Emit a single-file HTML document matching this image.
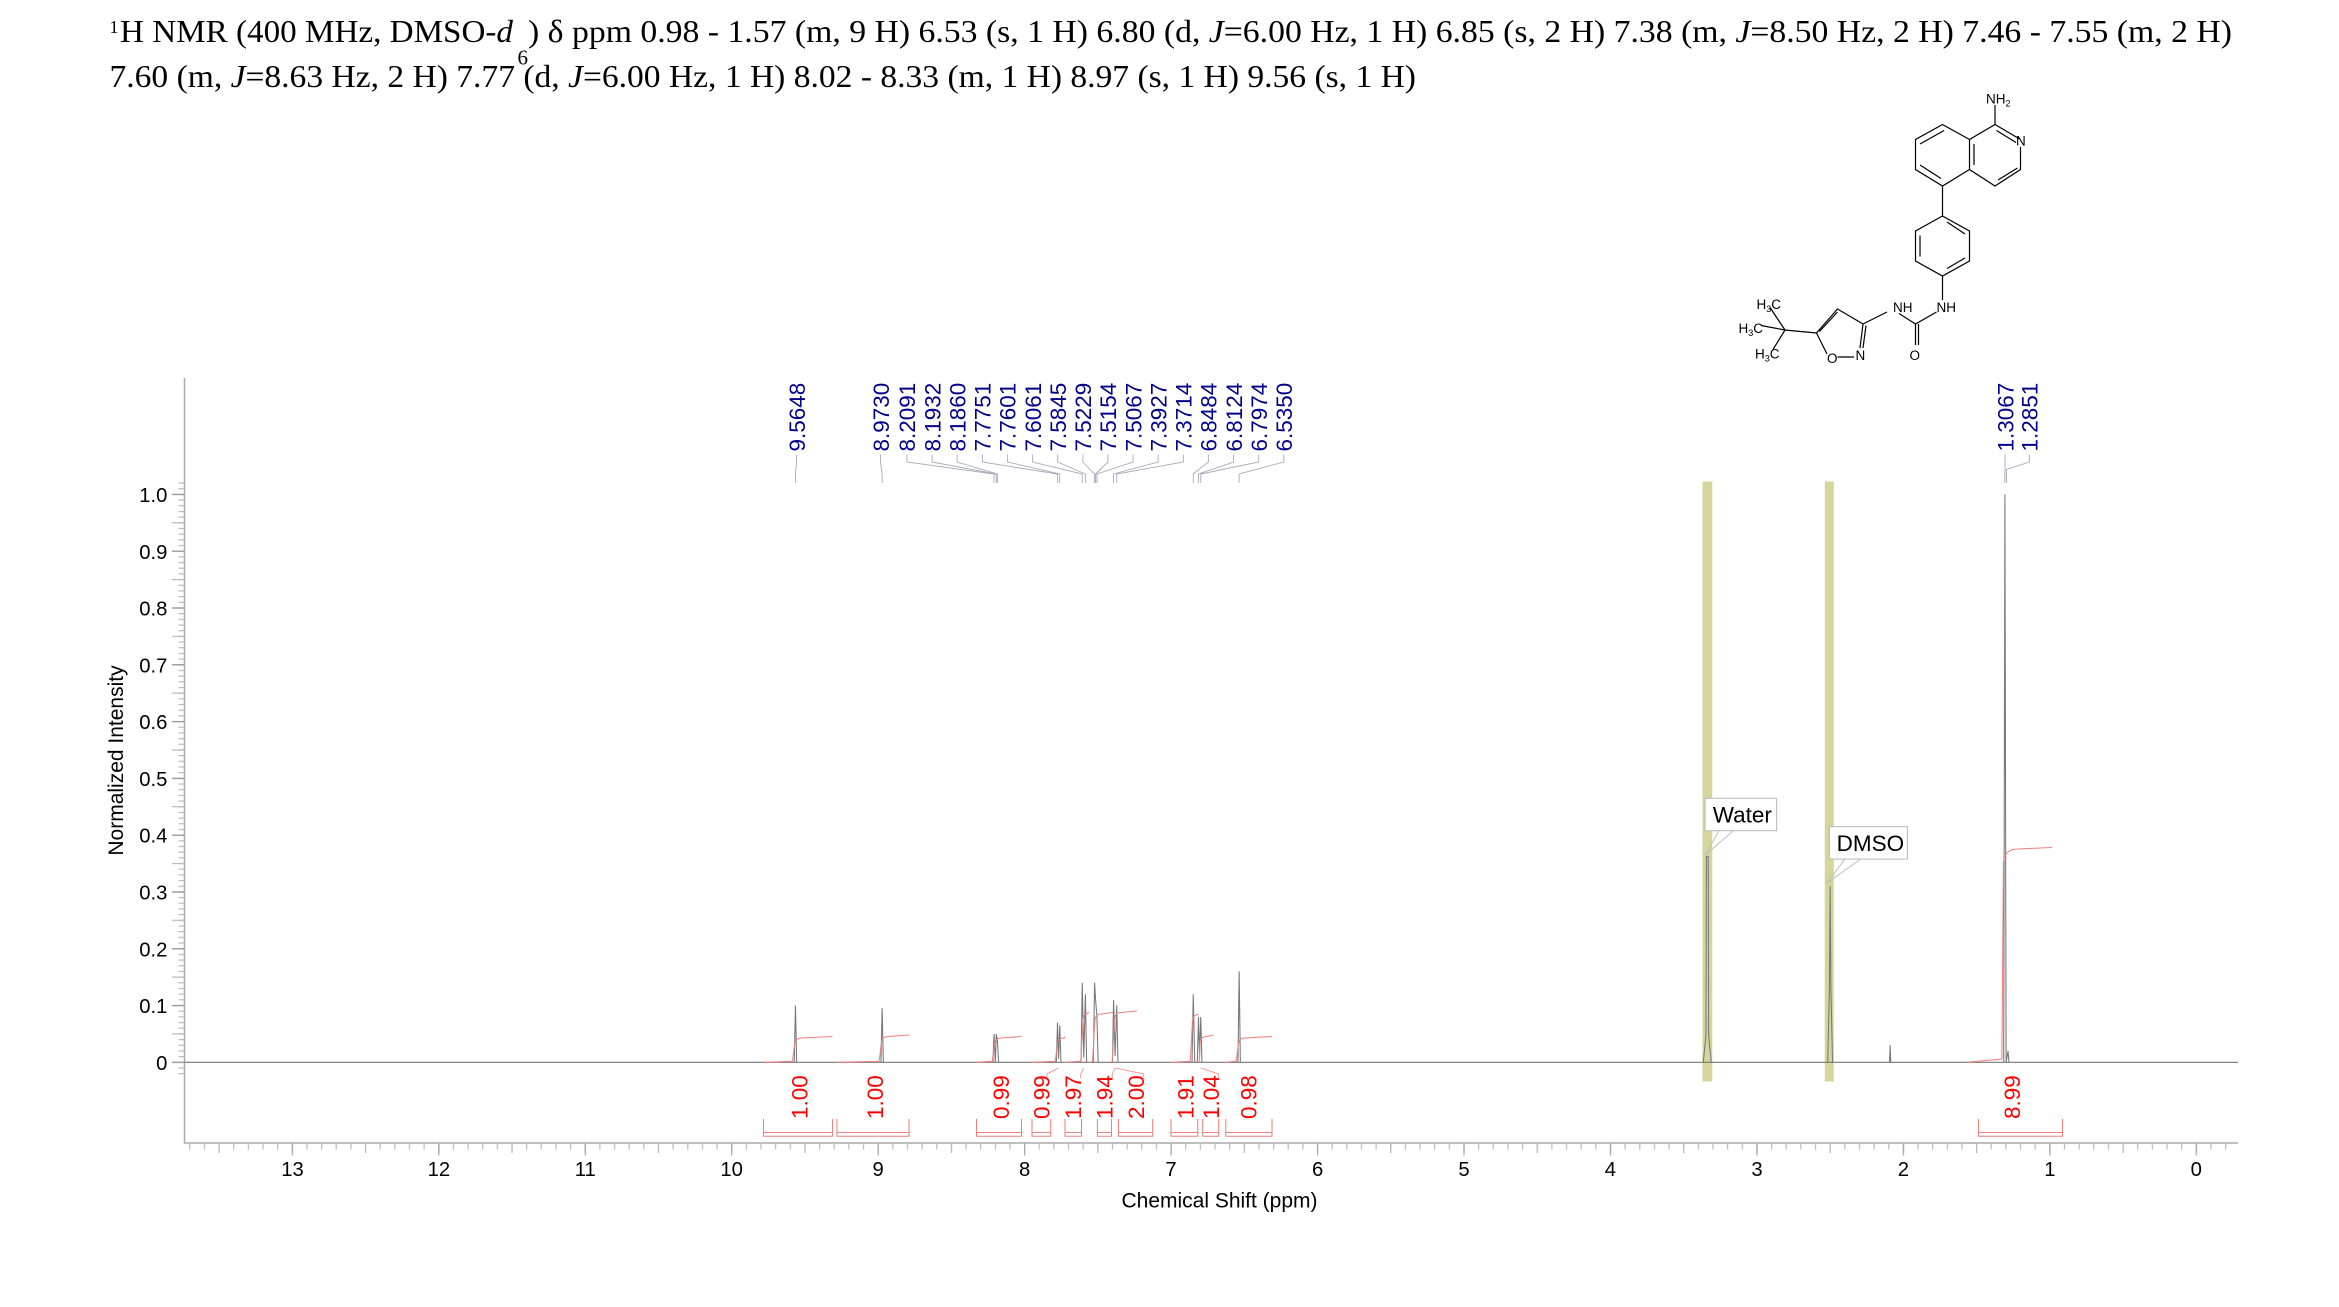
<!DOCTYPE html>
<html><head><meta charset="utf-8"><style>
html,body{margin:0;padding:0;background:#fff;}
svg{display:block;}
</style></head><body>
<svg xmlns="http://www.w3.org/2000/svg" width="2339" height="1307" viewBox="0 0 1559.33 871.33">
<defs>
<pattern id="xm" patternUnits="userSpaceOnUse" x="1463.8" y="0" width="9.764" height="20"><rect x="0" y="0" width="0.8" height="20" fill="#bbb"/></pattern>
<pattern id="xh" patternUnits="userSpaceOnUse" x="1463.8" y="0" width="48.82" height="20"><rect x="0" y="0" width="0.8" height="20" fill="#bbb"/></pattern>
<pattern id="xM" patternUnits="userSpaceOnUse" x="1463.8" y="0" width="97.64" height="20"><rect x="0" y="0" width="0.8" height="20" fill="#aaa"/></pattern>
<pattern id="ym" patternUnits="userSpaceOnUse" x="0" y="707.8" width="20" height="3.786"><rect x="0" y="0" width="20" height="0.8" fill="#bbb"/></pattern>
<pattern id="yh" patternUnits="userSpaceOnUse" x="0" y="707.8" width="20" height="18.93"><rect x="0" y="0" width="20" height="0.8" fill="#bbb"/></pattern>
<pattern id="yM" patternUnits="userSpaceOnUse" x="0" y="707.8" width="20" height="37.86"><rect x="0" y="0" width="20" height="0.8" fill="#999"/></pattern>
</defs>
<rect width="1559.33" height="871.33" fill="#fff"/>
<g font-family="Liberation Serif, serif" font-size="21" fill="#000">
<text x="73" y="22" font-size="12">1</text>
<text x="80" y="28" textLength="262" lengthAdjust="spacingAndGlyphs">H NMR (400 MHz, DMSO-<tspan font-style="italic">d</tspan></text>
<text x="345" y="43" font-size="14">6</text>
<text x="352" y="28" textLength="1136" lengthAdjust="spacingAndGlyphs">) δ ppm 0.98 - 1.57 (m, 9 H) 6.53 (s, 1 H) 6.80 (d, <tspan font-style="italic">J</tspan>=6.00 Hz, 1 H) 6.85 (s, 2 H) 7.38 (m, <tspan font-style="italic">J</tspan>=8.50 Hz, 2 H) 7.46 - 7.55 (m, 2 H)</text>
<text x="73" y="58" textLength="871" lengthAdjust="spacingAndGlyphs">7.60 (m, <tspan font-style="italic">J</tspan>=8.63 Hz, 2 H) 7.77 (d, <tspan font-style="italic">J</tspan>=6.00 Hz, 1 H) 8.02 - 8.33 (m, 1 H) 8.97 (s, 1 H) 9.56 (s, 1 H)</text>
</g>
<!-- structure -->
<g stroke="#000" stroke-width="0.8" fill="none">
<path d="M1330,83 L1347,93 M1347,98 L1347,113 L1330,124 L1313,113 L1313,93 L1330,83 M1313,93 L1295,83 L1277,93 L1277,113 L1295,124 L1313,113 M1330,83 L1330,70"/>
<path d="M1296,87 L1280,96 M1280,110 L1294,119 M1316,96 L1316,110 M1332,120 L1345,112 M1331,87 L1344,95"/>
<path d="M1295,124 L1295,144 L1313,154 L1313,174 L1295,184 L1277,174 L1277,154 L1295,144 M1298,148 L1310,156 M1310,172 L1298,179 M1280,157 L1280,171"/>
<path d="M1295,184 L1295,200 M1291,208 L1277,216 L1266,209 M1277,216 L1277,230 M1279,216 L1279,230 M1258,208 L1242,216 L1240,232 M1236,238 L1225,238 M1218,236 L1211,222 L1225,206 L1242,216 M1213,221 L1225,208 M1244,217 L1242,232 M1211,222 L1190,220 L1180,205 M1190,220 L1174,217 M1190,220 L1182,233"/>
</g>
<g font-family="Liberation Sans, sans-serif" font-size="9" fill="#000">
<text x="1324" y="69">NH<tspan font-size="6" dy="2">2</tspan></text>
<text x="1344" y="97">N</text>
<text x="1291" y="208">NH</text>
<text x="1262" y="208">NH</text>
<text x="1273" y="240">O</text>
<text x="1237" y="240">N</text>
<text x="1218" y="242">O</text>
<text x="1171" y="206">H<tspan font-size="6" dy="2">3</tspan><tspan dy="-2">C</tspan></text>
<text x="1159" y="222">H<tspan font-size="6" dy="2">3</tspan><tspan dy="-2">C</tspan></text>
<text x="1170" y="239">H<tspan font-size="6" dy="2">3</tspan><tspan dy="-2">C</tspan></text>
</g>
<!-- solvent bands -->
<rect x="1135" y="321" width="6.5" height="400" fill="#d6d69c"/>
<rect x="1216.5" y="321" width="6" height="400" fill="#d6d69c"/>
<!-- axes -->
<path d="M123,252 L123,762 L1492,762" stroke="#aaa" stroke-width="1" fill="none"/>
<rect x="123" y="762" width="1369" height="4.4" fill="url(#xm)"/>
<rect x="123" y="762" width="1369" height="6.7" fill="url(#xh)"/>
<rect x="123" y="762" width="1369" height="8.4" fill="url(#xM)"/>
<rect x="119" y="320" width="4" height="397" fill="url(#ym)"/>
<rect x="114.6" y="320" width="8.4" height="397" fill="url(#yh)"/>
<rect x="114.6" y="320" width="8.4" height="397" fill="url(#yM)"/>
<g font-family="Liberation Sans, sans-serif" font-size="13.5" fill="#000" text-anchor="middle">
<text x="195.0" y="784">13</text><text x="292.6" y="784">12</text><text x="390.2" y="784">11</text><text x="487.8" y="784">10</text><text x="585.4" y="784">9</text><text x="683.1" y="784">8</text><text x="780.7" y="784">7</text><text x="878.4" y="784">6</text><text x="976.0" y="784">5</text><text x="1073.6" y="784">4</text><text x="1171.3" y="784">3</text><text x="1268.9" y="784">2</text><text x="1366.6" y="784">1</text><text x="1464.2" y="784">0</text>
</g>
<g font-family="Liberation Sans, sans-serif" font-size="13.5" fill="#000" text-anchor="end">
<text x="111.6" y="713.2">0</text><text x="111.6" y="675.3">0.1</text><text x="111.6" y="637.5">0.2</text><text x="111.6" y="599.6">0.3</text><text x="111.6" y="561.8">0.4</text><text x="111.6" y="523.9">0.5</text><text x="111.6" y="486.0">0.6</text><text x="111.6" y="448.2">0.7</text><text x="111.6" y="410.3">0.8</text><text x="111.6" y="372.5">0.9</text><text x="111.6" y="334.6">1.0</text>
</g>
<text x="813" y="805" font-family="Liberation Sans, sans-serif" font-size="14" text-anchor="middle">Chemical Shift (ppm)</text>
<text transform="translate(82,507) rotate(-90)" font-family="Liberation Sans, sans-serif" font-size="14" text-anchor="middle">Normalized Intensity</text>
<!-- spectrum -->
<path fill="none" stroke="#777" stroke-width="0.7" d="M123,708.2 L1492,708.2
M529.5,708.2 L530.3,670.3 L531.1,708.2
M587.3,708.2 L588.1,672.2 L588.9,708.2
M661.9,708.2 L662.7,689.3 L663.5,708.2 L664.2,689.3 L664.9,693.1 L665.7,708.2
M704.2,708.2 L705.0,681.7 L705.7,706 L706.5,683.6 L707.3,708.2
M720.7,708.2 L721.5,655.2 L722.5,705 L723.6,662.8 L724.4,708.2
M728.9,708.2 L729.7,655.2 L730.4,666.6 L731.3,677.9 L732.1,708.2
M741.6,708.2 L742.4,666.6 L743.4,704 L744.5,670.3 L745.3,708.2
M794.7,708.2 L795.5,662.8 L796.5,708.2 L798.2,708.2 L799.0,677.9 L799.7,705 L800.5,677.9 L801.3,708.2
M825.3,708.2 L826.1,647.6 L826.9,708.2
M1135.5,708.2 L1137.3,690 L1137.6,571 L1138.8,571 L1139.1,690 L1140.8,708.2
M1218.5,708.2 L1219.6,660 L1220.1,590.8 L1220.6,660 L1221.7,708.2
M1259.7,708.2 L1260.1,696.8 L1260.5,708.2
M1335.8,708.2 L1336.6,329.6 L1337.4,708.2 L1338.7,700.6 L1339.3,708.2"/>
<!-- integrals -->
<g fill="none" stroke="#f08080" stroke-width="0.7">
<path d="M509,708.2 L528.3,707.5 L529.8,696 Q530.3,692 534.3,692 L555,691"/>
<path d="M558,708.2 L586.1,707.5 L587.6,695 Q588.1,691 592.1,691 L606,690"/>
<path d="M651,708.2 L661.5,707.5 L663,696 Q663.5,692 667.5,692 L681,691"/>
<path d="M688,708.2 L703.5,707.5 L705,696 Q705.5,692 709.5,692 L710,691"/>
<path d="M710,708.2 L720.5,707.5 L722,680 Q722.5,676 724,676 L726,675"/>
<path d="M727,708.2 L728.4,707.5 L729.9,680 Q730.4,676 734.4,676 L742,675"/>
<path d="M743,708.2 L741.5,707.5 L743,679 Q743.5,675 747.5,675 L758,674"/>
<path d="M781,708.2 L793.5,707.5 L795,681 Q795.5,677 797,677 L799,676"/>
<path d="M799,708.2 L799.5,707.5 L800,695 Q800.5,691 804.5,691 L809,690"/>
<path d="M817,708.2 L824.1,707.5 L825.6,696 Q826.1,692 830.1,692 L848,691"/>
<path d="M1311,708.2 L1334.6,706 L1335.6,575 Q1336.6,566 1345,566 L1368,565"/>
<path d="M509,746 L509,757.5 L555,757.5 L555,746 M509,755 L555,755"/>
<path d="M558,746 L558,757.5 L606,757.5 L606,746 M558,755 L606,755"/>
<path d="M651,746 L651,757.5 L681,757.5 L681,746 M651,755 L681,755"/>
<path d="M688,746 L688,757.5 L700.5,757.5 L700.5,746 M688,755 L700.5,755"/>
<path d="M710,746 L710,757.5 L721,757.5 L721,746 M710,755 L721,755"/>
<path d="M731.6,746 L731.6,757.5 L741,757.5 L741,746 M731.6,755 L741,755"/>
<path d="M745.6,746 L745.6,757.5 L768.5,757.5 L768.5,746 M745.6,755 L768.5,755"/>
<path d="M780.7,746 L780.7,757.5 L798.5,757.5 L798.5,746 M780.7,755 L798.5,755"/>
<path d="M801.8,746 L801.8,757.5 L812.5,757.5 L812.5,746 M801.8,755 L812.5,755"/>
<path d="M817.2,746 L817.2,757.5 L848,757.5 L848,746 M817.2,755 L848,755"/>
<path d="M1319,746 L1319,757.5 L1375,757.5 L1375,746 M1319,755 L1375,755"/>
<path d="M698,719 L698,716 L705.5,712 M720.5,719 L720.5,716 L722.5,712 M741.5,719 L741.5,716 L743.5,712 M762.5,719 L762.5,716 L743.5,712 M812.5,719 L812.5,716 L800.5,712" stroke-width="0.5"/>
</g>
<g font-family="Liberation Sans, sans-serif" font-size="15" fill="#ff0000">
<text transform="translate(538.2,746) rotate(-90)">1.00</text>
<text transform="translate(588.5,746) rotate(-90)">1.00</text>
<text transform="translate(672.5,746) rotate(-90)">0.99</text>
<text transform="translate(699.5,746) rotate(-90)">0.99</text>
<text transform="translate(720.5,746) rotate(-90)">1.97</text>
<text transform="translate(741.5,746) rotate(-90)">1.94</text>
<text transform="translate(762.5,746) rotate(-90)">2.00</text>
<text transform="translate(795.5,746) rotate(-90)">1.91</text>
<text transform="translate(812.5,746) rotate(-90)">1.04</text>
<text transform="translate(837.5,746) rotate(-90)">0.98</text>
<text transform="translate(1346.5,746) rotate(-90)">8.99</text>
</g>
<!-- peak labels -->
<g font-family="Liberation Sans, sans-serif" font-size="15" fill="#00008b">
<text transform="translate(536.5,301) rotate(-90)">9.5648</text>
<text transform="translate(592.5,301) rotate(-90)">8.9730</text>
<text transform="translate(610.1,301) rotate(-90)">8.2091</text>
<text transform="translate(626.9,301) rotate(-90)">8.1932</text>
<text transform="translate(643.6,301) rotate(-90)">8.1860</text>
<text transform="translate(660.4,301) rotate(-90)">7.7751</text>
<text transform="translate(677.1,301) rotate(-90)">7.7601</text>
<text transform="translate(693.9,301) rotate(-90)">7.6061</text>
<text transform="translate(710.6,301) rotate(-90)">7.5845</text>
<text transform="translate(727.4,301) rotate(-90)">7.5229</text>
<text transform="translate(744.1,301) rotate(-90)">7.5154</text>
<text transform="translate(760.9,301) rotate(-90)">7.5067</text>
<text transform="translate(777.6,301) rotate(-90)">7.3927</text>
<text transform="translate(794.4,301) rotate(-90)">7.3714</text>
<text transform="translate(811.1,301) rotate(-90)">6.8484</text>
<text transform="translate(827.9,301) rotate(-90)">6.8124</text>
<text transform="translate(844.6,301) rotate(-90)">6.7974</text>
<text transform="translate(861.4,301) rotate(-90)">6.5350</text>
<text transform="translate(1342.2,301) rotate(-90)">1.3067</text>
<text transform="translate(1358.4,301) rotate(-90)">1.2851</text>
</g>
<g fill="none" stroke="#aab" stroke-width="0.6">
<path d="M531,303 L531,308 L530.3,316 L530.3,322"/>
<path d="M587,303 L587,308 L588.1,316 L588.1,322"/>
<path d="M604.6,303 L604.6,308 L662.7,316 L662.7,322"/>
<path d="M621.4,303 L621.4,308 L664.2,316 L664.2,322"/>
<path d="M638.1,303 L638.1,308 L664.9,316 L664.9,322"/>
<path d="M654.9,303 L654.9,308 L705.0,316 L705.0,322"/>
<path d="M671.6,303 L671.6,308 L706.5,316 L706.5,322"/>
<path d="M688.4,303 L688.4,308 L721.5,316 L721.5,322"/>
<path d="M705.1,303 L705.1,308 L723.6,316 L723.6,322"/>
<path d="M721.9,303 L721.9,308 L729.7,316 L729.7,322"/>
<path d="M738.6,303 L738.6,308 L730.4,316 L730.4,322"/>
<path d="M755.4,303 L755.4,308 L731.3,316 L731.3,322"/>
<path d="M772.1,303 L772.1,308 L742.4,316 L742.4,322"/>
<path d="M788.9,303 L788.9,308 L744.5,316 L744.5,322"/>
<path d="M805.6,303 L805.6,308 L795.5,316 L795.5,322"/>
<path d="M822.4,303 L822.4,308 L799.0,316 L799.0,322"/>
<path d="M839.1,303 L839.1,308 L800.5,316 L800.5,322"/>
<path d="M855.9,303 L855.9,308 L826.1,316 L826.1,322"/>
<path d="M1336.7,303 L1336.7,308 L1336.6,316 L1336.6,322"/>
<path d="M1352.9,303 L1352.9,308 L1337.6,313 L1337.6,322"/>
</g>
<!-- annotations -->
<g font-family="Liberation Sans, sans-serif" font-size="15" fill="#000">
<rect x="1136.7" y="532.2" width="47.7" height="21.6" fill="#fff" stroke="#bbb" stroke-width="0.7"/>
<text x="1141.8" y="548.4">Water</text>
<path d="M1136.9,570 L1146,553.8 M1136.9,570 L1155.6,553.8" stroke="#bbb" stroke-width="0.6" fill="none"/>
<rect x="1219.6" y="551.1" width="52" height="21.6" fill="#fff" stroke="#bbb" stroke-width="0.7"/>
<text x="1224.4" y="567.3">DMSO</text>
<path d="M1217.8,588.9 L1230,572.7 M1217.8,588.9 L1240.4,572.7" stroke="#bbb" stroke-width="0.6" fill="none"/>
</g>
</svg>
</body></html>
